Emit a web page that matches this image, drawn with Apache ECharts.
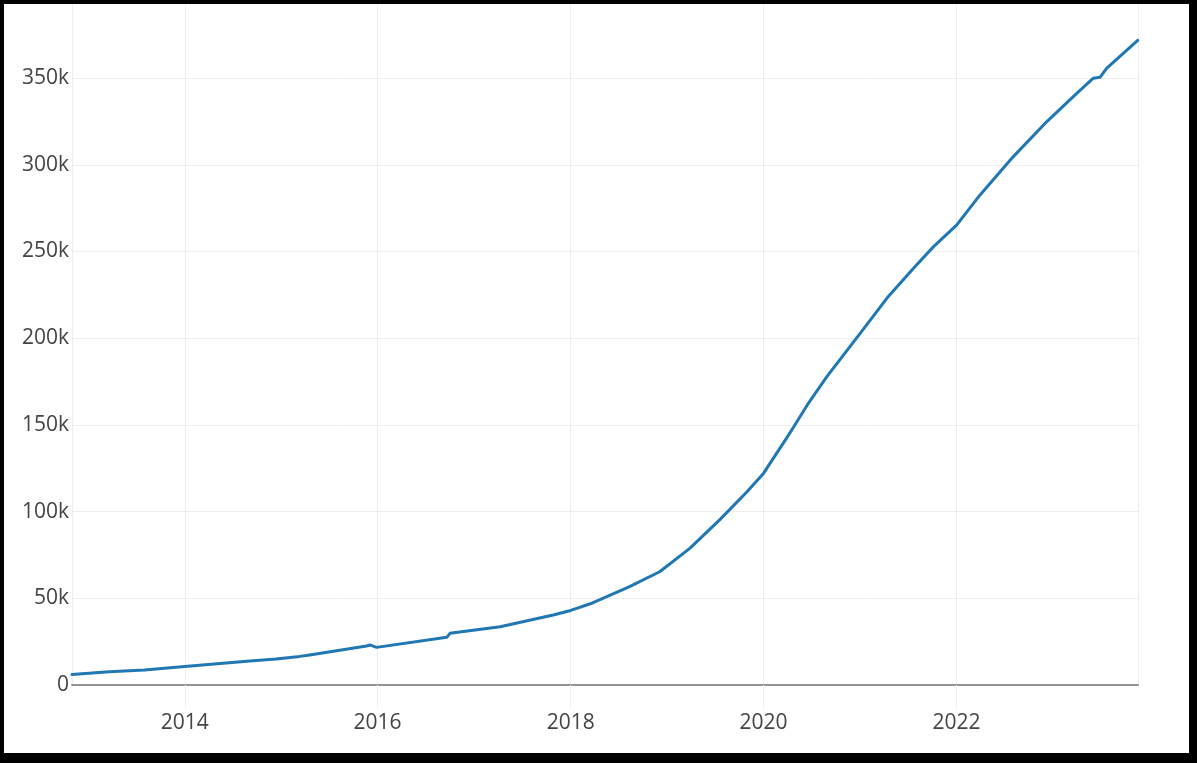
<!DOCTYPE html>
<html>
<head>
<meta charset="utf-8">
<script src="https://cdn.jsdelivr.net/npm/echarts@6/dist/echarts.min.js"></script>
<style>
  html, body { margin: 0; padding: 0; background: #000; width: 1197px; height: 763px; overflow: hidden; }
  #chart { position: absolute; left: 4px; top: 4px; width: 1185px; height: 749px; background: #fff; border-radius: 3px; }
</style>
</head>
<body>
<div id="chart"></div>
<script>
// Data
const dates = [
  '2012-10-31', '2013-03-21', '2013-08-01', '2014-01-01', '2014-09-04', '2014-12-13',
  '2015-03-12', '2015-04-19', '2015-11-20', '2015-12-03', '2015-12-28',
  '2016-09-19', '2016-10-01', '2017-04-09', '2017-10-27', '2018-01-01',
  '2018-03-25', '2018-08-12', '2018-12-04', '2019-03-28', '2019-07-19',
  '2019-10-28', '2020-01-01', '2020-03-29', '2020-04-23', '2020-06-15', '2020-08-28',
  '2021-01-01', '2021-04-12', '2021-07-22', '2021-10-06', '2022-01-02',
  '2022-03-31', '2022-08-04', '2022-12-09', '2023-04-01', '2023-06-03',
  '2023-06-28', '2023-07-23', '2023-11-18'
];
const values = [
  6000, 7700, 8600, 10600, 13800, 15000,
  16500, 17300, 22500, 23100, 21700,
  27500, 29800, 33600, 40400, 43000,
  47300, 56700, 65300, 78800, 95200,
  111000, 122000, 142500, 148500, 161500, 177800,
  202800, 223000, 240300, 252800, 265300,
  282600, 304700, 324900, 341200, 349900,
  350400, 355600, 371700
];
const yTicks = [0, 50000, 100000, 150000, 200000, 250000, 300000, 350000];
const xStart = '2012-10-31';
const xEnd = '2023-11-19';
const yMax = 392700;

function ts(s) { const p = s.split('-').map(Number); return Date.UTC(p[0], p[1] - 1, p[2]); }

const chart = echarts.init(document.getElementById('chart'), null, { renderer: 'canvas' });
const font = '"Open Sans", "Noto Sans", sans-serif';
chart.setOption({
  useUTC: true,
  animation: false,
  backgroundColor: '#ffffff',
  grid: { left: 68, right: 51, top: 0, bottom: 68, containLabel: false },
  xAxis: {
    type: 'time',
    min: ts(xStart),
    max: ts(xEnd),
    splitNumber: 5,
    axisLine: { show: true, onZero: false, lineStyle: { color: '#939393', width: 2 } },
    axisTick: { show: true, length: 23, lineStyle: { color: '#eeeeee', width: 1 } },
    splitLine: { show: true, lineStyle: { color: '#eeeeee', width: 1 } },
    minorTick: { show: false },
    axisLabel: {
      color: '#444444', fontSize: 21, fontFamily: font, margin: 28,
      formatter: function (v) { return String(new Date(v).getUTCFullYear()); },
      showMinLabel: false, showMaxLabel: false
    }
  },
  yAxis: {
    type: 'value',
    min: 0,
    max: yMax,
    interval: 50000,
    axisLine: { show: false },
    axisTick: { show: false },
    splitLine: { show: true, showMinLine: false, showMaxLine: false, lineStyle: { color: '#eeeeee', width: 1 } },
    axisLabel: {
      color: '#444444', fontSize: 21, fontFamily: font, margin: 3,
      showMaxLabel: false,
      formatter: function (v) { return yTicks.indexOf(v) >= 0 ? (v === 0 ? '0' : (v / 1000) + 'k') : ''; }
    }
  },
  series: [{
    type: 'line',
    data: dates.map((d, i) => [ts(d), values[i]]),
    showSymbol: false,
    smooth: false,
    lineStyle: { color: '#1f77b4', width: 3, join: 'round', cap: 'round' },
    itemStyle: { color: '#1f77b4' }
  }]
});
</script>
</body>
</html>
